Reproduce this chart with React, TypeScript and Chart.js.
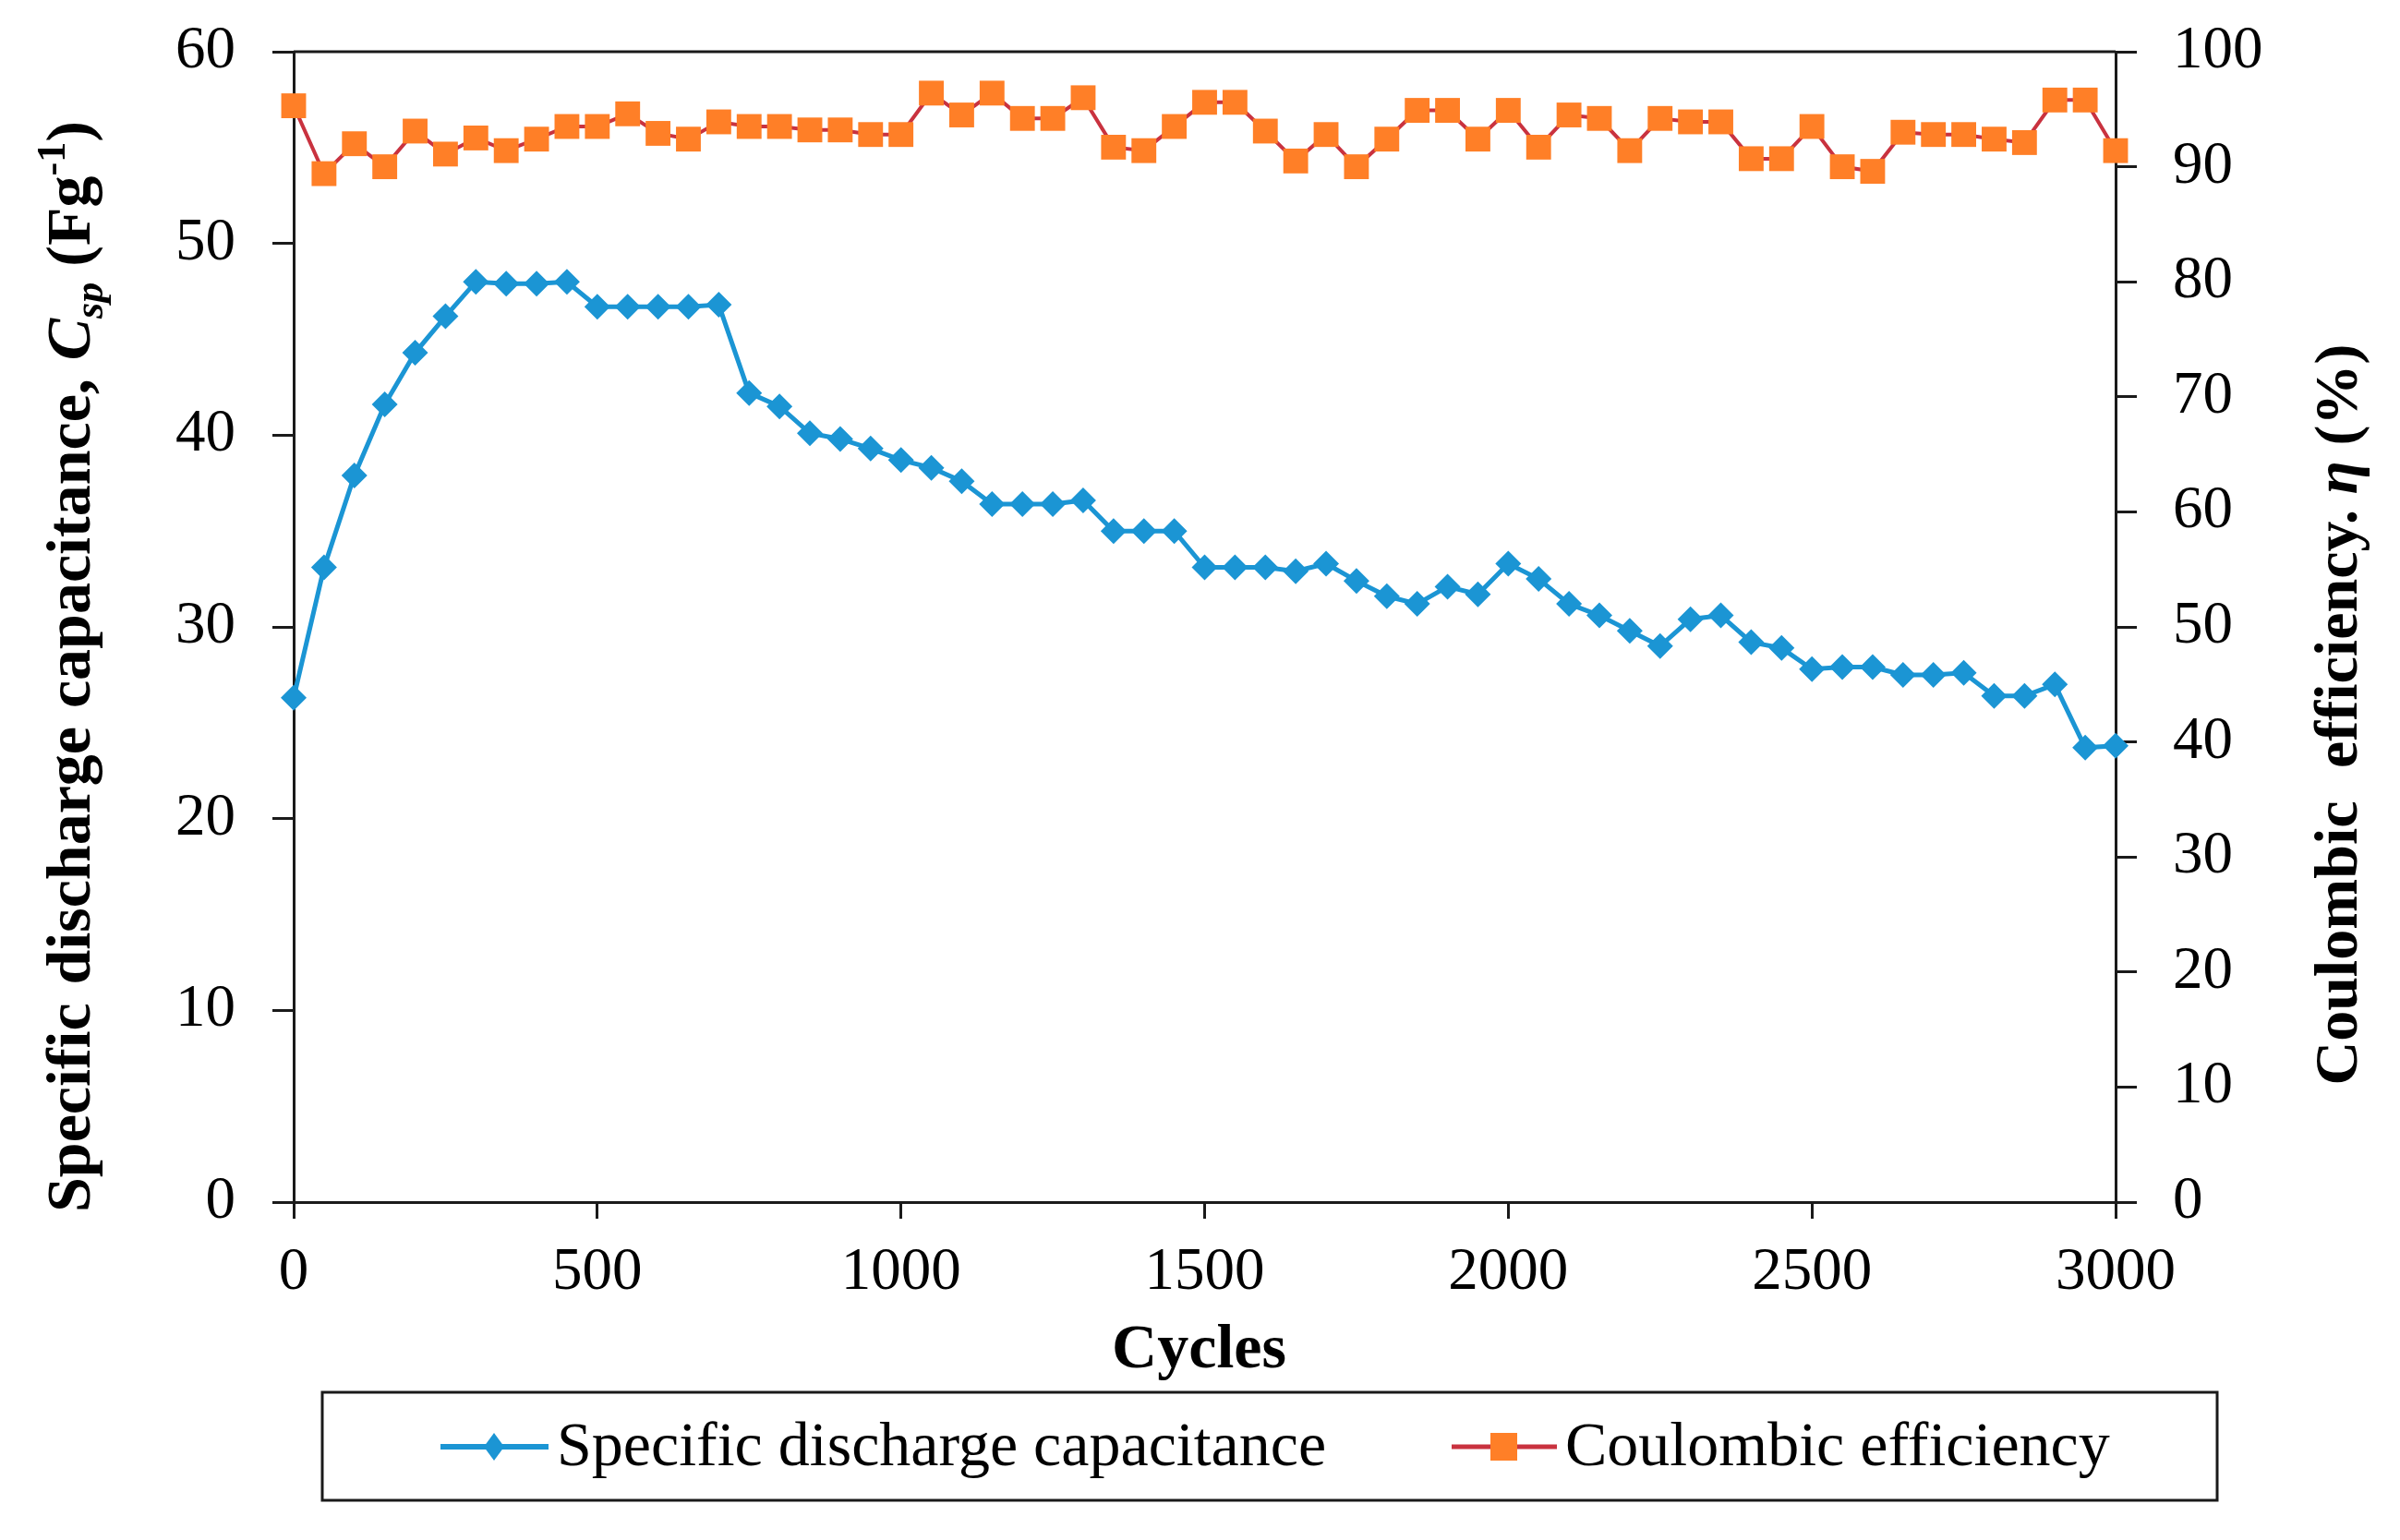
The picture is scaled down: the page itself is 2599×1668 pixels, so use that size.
import React, { useEffect, useRef } from 'react';
import { Chart, registerables } from 'chart.js';

Chart.register(...registerables);

const cycles = [
  0, 50, 100, 150, 200, 250, 300, 350, 400, 450,
  500, 550, 600, 650, 700, 750, 800, 850, 900, 950,
  1000, 1050, 1100, 1150, 1200, 1250, 1300, 1350, 1400, 1450,
  1500, 1550, 1600, 1650, 1700, 1750, 1800, 1850, 1900, 1950,
  2000, 2050, 2100, 2150, 2200, 2250, 2300, 2350, 2400, 2450,
  2500, 2550, 2600, 2650, 2700, 2750, 2800, 2850, 2900, 2950,
  3000,
];

const capacitance = [
  26.3, 33.1, 37.9, 41.6, 44.3, 46.2, 48.0, 47.9, 47.9, 48.0,
  46.7, 46.7, 46.7, 46.7, 46.8, 42.2, 41.5, 40.1, 39.8, 39.3,
  38.7, 38.3, 37.6, 36.4, 36.4, 36.4, 36.6, 35.0, 35.0, 35.0,
  33.1, 33.1, 33.1, 32.9, 33.3, 32.4, 31.6, 31.2, 32.1, 31.7,
  33.3, 32.5, 31.2, 30.6, 29.8, 29.0, 30.4, 30.6, 29.2, 28.9,
  27.8, 27.9, 27.9, 27.5, 27.5, 27.6, 26.4, 26.4, 27.0, 23.7,
  23.8,
];

const efficiency = [
  95.3, 89.4, 92.0, 90.0, 93.1, 91.1, 92.5, 91.4, 92.4, 93.5,
  93.5, 94.6, 92.9, 92.4, 93.9, 93.5, 93.5, 93.2, 93.2, 92.8,
  92.8, 96.4, 94.5, 96.4, 94.2, 94.2, 96.0, 91.7, 91.4, 93.5,
  95.6, 95.6, 93.1, 90.5, 92.8, 90.0, 92.4, 94.9, 94.9, 92.4,
  94.9, 91.7, 94.5, 94.2, 91.4, 94.2, 93.9, 93.9, 90.7, 90.7,
  93.5, 90.0, 89.6, 93.0, 92.8, 92.8, 92.4, 92.1, 95.8, 95.8,
  91.4,
];

const seriesLabels = ['Specific discharge capacitance', 'Coulombic efficiency'];
const xTitle = 'Cycles';

const FAMILY = '"Liberation Serif", "DejaVu Serif", serif';
const BLUE = '#1b95d4';
const ORANGE = '#ff7f27';
const RED = '#c9323f';
const AXIS = '#1a1a1a';

type Seg = { t: string; it?: boolean; sc?: number; dy?: number; gap?: boolean };

const leftTitle: Seg[] = [
  { t: 'Specific' }, { t: '', gap: true },
  { t: 'discharge' }, { t: '', gap: true },
  { t: 'capacitance,' }, { t: '', gap: true },
  { t: 'C', it: true }, { t: 'sp', it: true, sc: 0.65, dy: 0.2 },
  { t: ' ' }, { t: '(Fg' }, { t: '-1', sc: 0.65, dy: -0.4 }, { t: ')' },
];

const rightTitle: Seg[] = [
  { t: 'Coulombic' }, { t: '', gap: true },
  { t: 'efficiency.' }, { t: ' ' },
  { t: 'η', it: true }, { t: ' ' }, { t: '(%)' },
];

function fontStr(size: number, bold: boolean, italic?: boolean) {
  return `${italic ? 'italic ' : ''}${bold ? 'bold ' : ''}${size}px ${FAMILY}`;
}

function drawRich(
  ctx: CanvasRenderingContext2D,
  segs: Seg[],
  x: number,
  y: number,
  rot: number,
  size0: number,
  target: number,
  bold: boolean,
) {
  ctx.save();
  ctx.translate(x, y);
  ctx.rotate(rot);
  let size = size0;
  const measure = (s: Seg, sz: number) => {
    ctx.font = fontStr(sz * (s.sc || 1), bold, s.it);
    return ctx.measureText(s.t).width;
  };
  const calc = (sz: number) => {
    let natural = 0;
    let gaps = 0;
    segs.forEach((s) => {
      if (s.gap) gaps++;
      else natural += measure(s, sz);
    });
    return { natural, gaps };
  };
  let { natural, gaps } = calc(size);
  const minGap = size * 0.25;
  if (natural + gaps * minGap > target) {
    size = size * target / (natural + gaps * minGap);
    ({ natural, gaps } = calc(size));
  }
  const g = gaps ? Math.max(size * 0.25, (target - natural) / gaps) : 0;
  const total = natural + g * gaps;
  let cx = -total / 2;
  ctx.textBaseline = 'alphabetic';
  ctx.textAlign = 'left';
  ctx.fillStyle = '#000';
  for (const s of segs) {
    if (s.gap) {
      cx += g;
      continue;
    }
    ctx.font = fontStr(size * (s.sc || 1), bold, s.it);
    ctx.fillText(s.t, cx, (s.dy || 0) * size);
    cx += ctx.measureText(s.t).width;
  }
  ctx.restore();
}

const decorPlugin = {
  id: 'decor',
  beforeDatasetsDraw(chart: any) {
    const { ctx, chartArea } = chart;
    ctx.save();
    ctx.strokeStyle = AXIS;
    ctx.lineWidth = 3;
    ctx.beginPath();
    ctx.moveTo(chartArea.left, chartArea.top);
    ctx.lineTo(chartArea.right, chartArea.top);
    ctx.stroke();
    ctx.restore();
  },
  afterDraw(chart: any) {
    const { ctx, chartArea } = chart;
    drawRich(ctx, leftTitle, 97, 722, -Math.PI / 2, 68, 1182, true);
    drawRich(ctx, rightTitle, 2552, 774, -Math.PI / 2, 66, 803, true);

    ctx.save();
    ctx.fillStyle = '#000';
    ctx.font = fontStr(68, true);
    ctx.textAlign = 'center';
    ctx.textBaseline = 'alphabetic';
    ctx.fillText(xTitle, (chartArea.left + chartArea.right) / 2 - 6, 1481);

    // legend box
    ctx.strokeStyle = AXIS;
    ctx.lineWidth = 3;
    ctx.strokeRect(349, 1508, 2052, 117);

    const ly = 1567;
    // item 1
    ctx.strokeStyle = BLUE;
    ctx.lineWidth = 6;
    ctx.beginPath();
    ctx.moveTo(477, ly);
    ctx.lineTo(594, ly);
    ctx.stroke();
    ctx.fillStyle = BLUE;
    ctx.beginPath();
    ctx.moveTo(535, ly - 15);
    ctx.lineTo(546, ly);
    ctx.lineTo(535, ly + 15);
    ctx.lineTo(524, ly);
    ctx.closePath();
    ctx.fill();

    // item 2
    ctx.strokeStyle = RED;
    ctx.lineWidth = 5;
    ctx.beginPath();
    ctx.moveTo(1572, ly);
    ctx.lineTo(1686, ly);
    ctx.stroke();
    ctx.fillStyle = ORANGE;
    ctx.fillRect(1614, ly - 15, 29, 30);

    ctx.fillStyle = '#000';
    ctx.font = fontStr(68, false);
    ctx.textAlign = 'left';
    ctx.fillText(seriesLabels[0], 603, 1587);
    ctx.fillText(seriesLabels[1], 1695, 1587);
    ctx.restore();
  },
};

export default function App() {
  const ref = useRef<HTMLCanvasElement>(null);

  useEffect(() => {
    document.body.style.margin = '0';
    const canvas = ref.current;
    if (!canvas) return;
    const tickFont = { family: FAMILY, size: 65 };
    const chart = new Chart(canvas, {
      type: 'line',
      data: {
        datasets: [
          {
            label: seriesLabels[0],
            data: cycles.map((c, i) => ({ x: c, y: capacitance[i] })),
            yAxisID: 'y',
            borderColor: BLUE,
            backgroundColor: BLUE,
            borderWidth: 5,
            pointStyle: 'rectRot',
            pointRadius: 14,
            pointBackgroundColor: BLUE,
            pointBorderColor: BLUE,
            pointBorderWidth: 0,
            tension: 0,
            clip: false as any,
          },
          {
            label: seriesLabels[1],
            data: cycles.map((c, i) => ({ x: c, y: efficiency[i] })),
            yAxisID: 'y1',
            borderColor: RED,
            backgroundColor: ORANGE,
            borderWidth: 4,
            pointStyle: 'rect',
            pointRadius: 19,
            pointBackgroundColor: ORANGE,
            pointBorderColor: ORANGE,
            pointBorderWidth: 0,
            tension: 0,
            clip: false as any,
          },
        ],
      },
      options: {
        responsive: false,
        animation: false,
        events: [],
        layout: { padding: { top: 56, left: 0, right: 0, bottom: 0 } },
        plugins: {
          legend: { display: false },
          tooltip: { enabled: false },
        },
        scales: {
          x: {
            type: 'linear',
            position: 'bottom',
            min: 0,
            max: 3000,
            ticks: {
              stepSize: 500,
              font: tickFont,
              color: '#000',
              padding: 20,
              maxRotation: 0,
              autoSkip: false,
              callback: (v: any) => String(v),
            },
            grid: { drawOnChartArea: false, tickLength: 18, color: AXIS, lineWidth: 3 },
            border: { color: AXIS, width: 3 },
            afterFit: (s: any) => {
              s.height = 366;
            },
          },
          y: {
            type: 'linear',
            position: 'left',
            min: 0,
            max: 60,
            ticks: {
              stepSize: 10,
              font: tickFont,
              color: '#000',
              padding: 40,
              callback: (v: any) => String(v),
            },
            grid: { drawOnChartArea: false, tickLength: 23, color: AXIS, lineWidth: 3 },
            border: { color: AXIS, width: 3 },
            afterFit: (s: any) => {
              s.width = 318;
              s.paddingTop = 20;
              s.paddingBottom = 20;
            },
          },
          y1: {
            type: 'linear',
            position: 'right',
            min: 0,
            max: 100,
            ticks: {
              stepSize: 10,
              font: tickFont,
              color: '#000',
              padding: 39,
              callback: (v: any) => String(v),
            },
            grid: { drawOnChartArea: false, tickLength: 23, color: AXIS, lineWidth: 3 },
            border: { color: AXIS, width: 3 },
            afterFit: (s: any) => {
              s.width = 308;
              s.paddingTop = 20;
              s.paddingBottom = 20;
            },
          },
        },
      } as any,
      plugins: [decorPlugin],
    });
    return () => chart.destroy();
  }, []);

  return (
    <div style={{ width: 2599, height: 1668, background: '#fff' }}>
      <canvas ref={ref} width={2599} height={1668} style={{ display: 'block', width: 2599, height: 1668 }} />
    </div>
  );
}
